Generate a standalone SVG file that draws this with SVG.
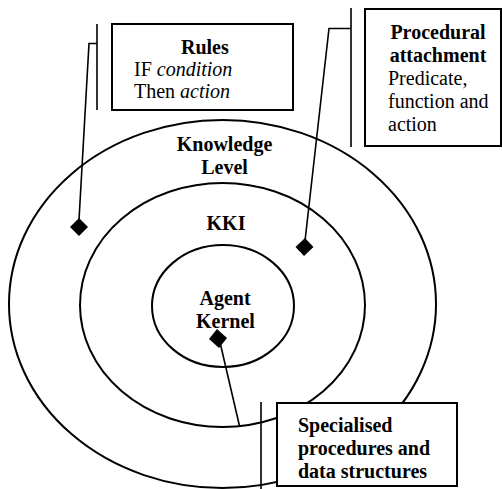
<svg xmlns="http://www.w3.org/2000/svg" width="502" height="489" viewBox="0 0 502 489">
<style>
.ring{fill:none;stroke:#000;stroke-width:2}
.box{fill:#fff;stroke:#000;stroke-width:2}
.ln{fill:none;stroke:#000;stroke-width:1.6}
.dm{fill:#000;stroke:none}
text{font-family:"Liberation Serif","Times New Roman",serif;font-size:20px;fill:#000}
.b{font-weight:bold}
.c{text-anchor:middle}
</style>
<rect width="502" height="489" fill="#fff"/>
<g id="knowledge-level">
<ellipse class="ring" cx="222.5" cy="304" rx="213.5" ry="184"/>
<text class="b c" x="224.5" y="151">Knowledge</text>
<text class="b c" x="224.5" y="174">Level</text>
</g>
<g id="kki">
<ellipse class="ring" cx="222.5" cy="305" rx="142.5" ry="122"/>
<text class="b c" x="226" y="230">KKI</text>
</g>
<g id="agent-kernel">
<ellipse class="ring" cx="223" cy="306" rx="71" ry="61"/>
<text class="b c" x="225" y="305">Agent</text>
<text class="b c" x="225.5" y="328">Kernel</text>
</g>
<g id="connectors">
<path class="ln" d="M97,24 V110 M97,43.5 H89 L79,220"/>
<polygon class="dm" points="79,218 88,227 79,236 70,227"/>
<path class="ln" d="M351,8 V147 M351,28.5 H329 L305,241"/>
<polygon class="dm" points="305,238 313.5,247 304,256 295.5,247"/>
<path class="ln" d="M219,338 L239.5,426 M261,402 V489"/>
<polygon class="dm" points="217,329 227,338 219,348 209,339"/>
</g>
<g id="rules">
<rect class="box" x="112" y="24" width="181" height="86"/>
<text class="b" x="181" y="54">Rules</text>
<text x="134" y="76">IF <tspan font-style="italic">condition</tspan></text>
<text x="134" y="98">Then <tspan font-style="italic">action</tspan></text>
</g>
<g id="procedural-attachment">
<rect class="box" x="365" y="9" width="136" height="137"/>
<text class="b c" x="438" y="39">Procedural</text>
<text class="b c" x="438" y="62">attachment</text>
<text x="388" y="85">Predicate,</text>
<text x="388" y="108">function and</text>
<text x="388" y="131">action</text>
</g>
<g id="specialised">
<rect class="box" x="277" y="403" width="180" height="83"/>
<text class="b" x="298" y="432">Specialised</text>
<text class="b" x="298" y="455">procedures and</text>
<text class="b" x="298" y="478">data structures</text>
</g>
</svg>
